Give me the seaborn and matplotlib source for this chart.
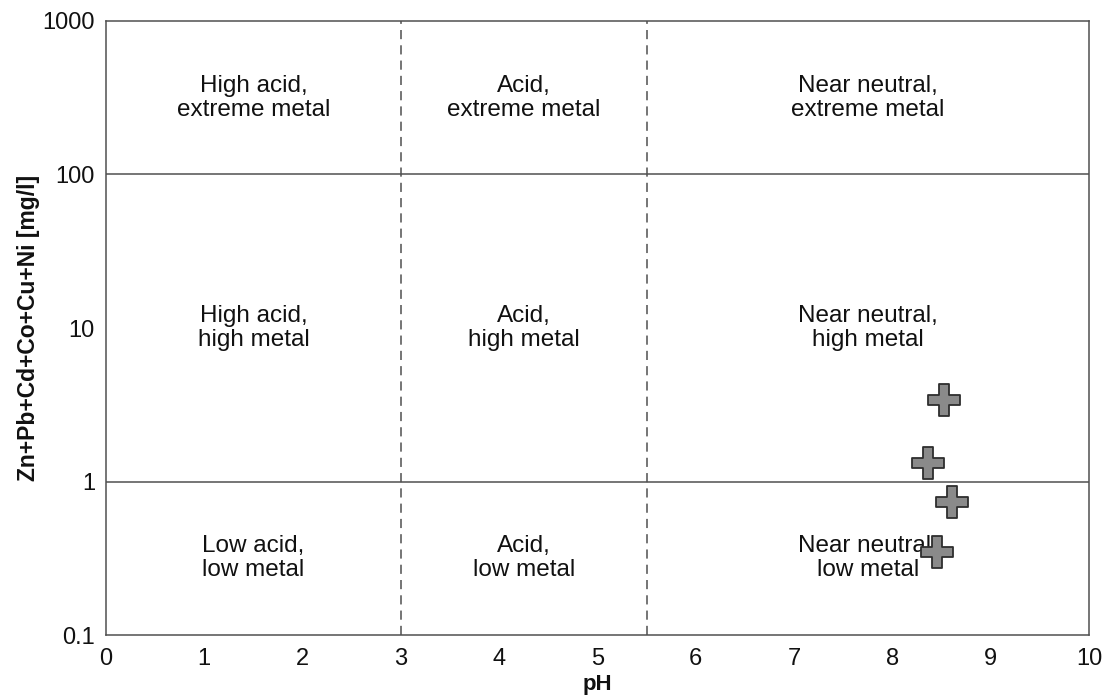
import matplotlib
matplotlib.use("Agg")
import matplotlib.pyplot as plt
import seaborn as sns
import pandas as pd

sns.set_theme(style="white")
plt.rcParams["font.family"] = ["Liberation Sans", "DejaVu Sans"]

# Sample measurements
ph_values = [8.52, 8.36, 8.61, 8.45]
metal_sum = [3.38, 1.33, 0.74, 0.35]

# Classification boundaries
ph_bounds = [3.0, 5.5]
metal_bounds = [1.0, 100.0]

# Region labels: (pH centre, metal centre, text)
region_x = [1.5, 4.25, 7.75]
region_y = [316.0, 10.0, 0.316]
region_text = [
    ["High acid,\nextreme metal", "Acid,\nextreme metal", "Near neutral,\nextreme metal"],
    ["High acid,\nhigh metal", "Acid,\nhigh metal", "Near neutral,\nhigh metal"],
    ["Low acid,\nlow metal", "Acid,\nlow metal", "Near neutral,\nlow metal"],
]

x_ticks = list(range(0, 11))
y_ticks = [0.1, 1, 10, 100, 1000]
y_tick_labels = ["0.1", "1", "10", "100", "1000"]

df = pd.DataFrame({"pH": ph_values, "metal": metal_sum})

fig = plt.figure(figsize=(11.02, 6.95), dpi=100)
ax = fig.add_axes([0.0962, 0.0863, 0.8920, 0.8835])

line_col = "#505050"
for b in metal_bounds:
    ax.axhline(b, color=line_col, lw=1.1, zorder=1)
for b in ph_bounds:
    ax.axvline(b, color=line_col, lw=1.1, ls=(0, (6, 4)), zorder=1)

for r, yy in enumerate(region_y):
    for c, xx in enumerate(region_x):
        ax.text(xx, yy, region_text[r][c], ha="center", va="center",
                fontsize=17.5, color="#111111", linespacing=1.12, zorder=2)

sns.scatterplot(data=df, x="pH", y="metal", marker="P", s=560,
                color="#8a8a8a", edgecolor="#2e2e2e", linewidth=1.3,
                ax=ax, zorder=3, legend=False)

ax.set_yscale("log")
ax.set_xlim(0, 10)
ax.set_ylim(0.1, 1000)
ax.set_xticks(x_ticks)
ax.set_xticklabels([str(t) for t in x_ticks])
ax.set_yticks(y_ticks)
ax.set_yticklabels(y_tick_labels)
ax.minorticks_off()
ax.tick_params(axis="both", length=0, labelsize=17, colors="#111111")
ax.tick_params(axis="x", pad=9)
ax.tick_params(axis="y", pad=8)

for s in ax.spines.values():
    s.set_color(line_col)
    s.set_linewidth(1.1)

ax.set_xlabel("pH", fontsize=16, fontweight="bold", labelpad=3, color="#111111")
ax.set_ylabel("Zn+Pb+Cd+Co+Cu+Ni [mg/l]", fontsize=16.5, fontweight="bold",
              labelpad=2, color="#111111")

fig.savefig("out.png", dpi=100)
